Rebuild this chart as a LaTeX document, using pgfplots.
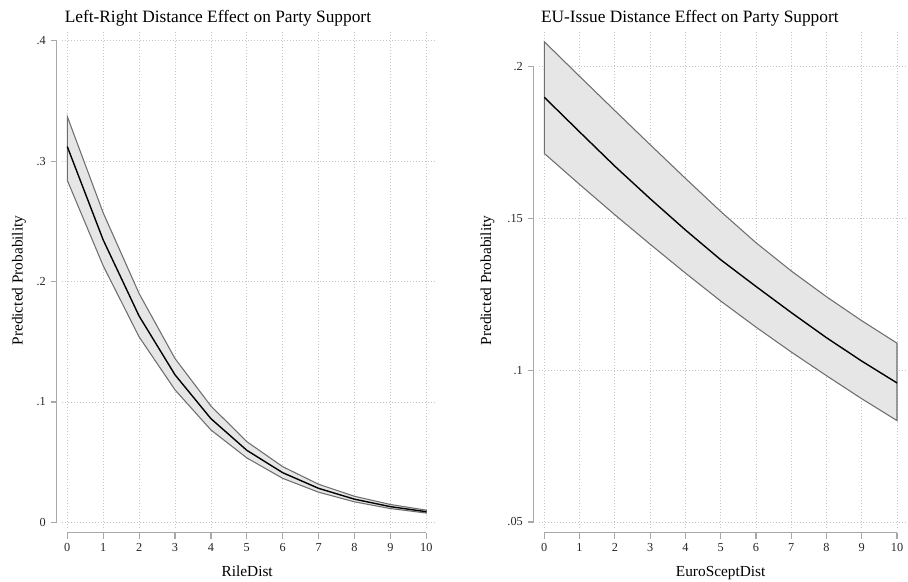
\documentclass[border=0pt]{standalone}
\usepackage{fontspec}
\setmainfont{Liberation Serif}
\usepackage{pgfplots}
\pgfplotsset{compat=1.18}

\definecolor{bandfill}{HTML}{E6E6E6}
\definecolor{bandline}{HTML}{6E6E6E}
\definecolor{axisgray}{HTML}{A8A8A8}
\definecolor{gridgray}{HTML}{C4C4C4}

\pgfplotsset{
  every axis title/.style={at={(0.5,1)}, anchor=base, font=\fontsize{13}{15}\selectfont},
  stata/.style={
    scale only axis,
    height=373.5pt,
    axis x line*=bottom,
    axis y line*=left,
    axis line style={axisgray, line width=1.1pt},
    tick style={axisgray, line width=0.9pt},
    tick align=outside,
    major tick length=4.5pt,
    grid=major,
    major grid style={gridgray, line width=0.6pt, dash pattern=on 0.6pt off 1.65pt},
    xtick={0,...,10},
    /pgf/number format/assume math mode=true,
    tick label style={font=\fontsize{9.2}{10}\selectfont, text=black!85},
    label style={font=\fontsize{11.5}{13}\selectfont},
    axis x line shift=3.5pt,
    axis y line shift=4.1pt,
  }
}

\begin{document}
\begin{tikzpicture}
\useasboundingbox (0,0) rectangle (681pt,436.5pt);

% Left panel
\begin{axis}[stata,
  at={(46.5pt,40.5pt)}, anchor=south west,
  width=279.75pt,
  xmin=-0.148, xmax=10.242,
  ymin=-0.00473, ymax=0.4089,
  ytick={0,0.1,0.2,0.3,0.4},
  yticklabels={0,.1,.2,.3,.4},
  x axis line style={shorten <=4pt, shorten >=6.5pt},
  y axis line style={shorten <=4.3pt, shorten >=8pt},
  title={Left-Right Distance Effect on Party Support},
  title style={at={(axis description cs:0.418,1.0147)}},
  xlabel={RileDist},
  xlabel style={at={(axis description cs:0.4965,-0.0964)}, anchor=base},
  ylabel={Predicted Probability},
  ylabel style={at={(axis description cs:-0.1153,0.497)}, anchor=center},
]
\addplot[fill=bandfill, draw=bandline, line width=0.8pt] coordinates {
  (0,0.337) (1,0.257) (2,0.190) (3,0.136) (4,0.0966) (5,0.0670)
  (6,0.0462) (7,0.0316) (8,0.0216) (9,0.0148) (10,0.0101)
  (10,0.0077) (9,0.0114) (8,0.0170) (7,0.0250) (6,0.0365) (5,0.0535)
  (4,0.0767) (3,0.110) (2,0.154) (1,0.213) (0,0.284)
} -- cycle;
\addplot[black, line width=1.05pt] coordinates {
  (0,0.312) (1,0.2345) (2,0.1713) (3,0.1225) (4,0.0861) (5,0.0598)
  (6,0.0412) (7,0.0282) (8,0.0192) (9,0.0130) (10,0.0088)
};
\end{axis}

% Right panel
\begin{axis}[stata,
  at={(404.25pt,40.5pt)}, anchor=south west,
  width=275.25pt,
  xmin=-0.150, xmax=10.255,
  ymin=0.04802, ymax=0.21206,
  ytick={0.05,0.1,0.15,0.2},
  yticklabels={.05,.1,.15,.2},
  x axis line style={shorten <=4pt, shorten >=6.75pt},
  y axis line style={shorten <=4.5pt, shorten >=27.5pt},
  title={EU-Issue Distance Effect on Party Support},
  title style={at={(axis description cs:0.411,1.0147)}},
  xlabel={EuroSceptDist},
  xlabel style={at={(axis description cs:0.495,-0.0964)}, anchor=base},
  ylabel={Predicted Probability},
  ylabel style={at={(axis description cs:-0.1403,0.497)}, anchor=center},
]
\addplot[fill=bandfill, draw=bandline, line width=0.8pt] coordinates {
  (0,0.2082) (1,0.1968) (2,0.1855) (3,0.1743) (4,0.1632) (5,0.1523)
  (6,0.1420) (7,0.1327) (8,0.1242) (9,0.1163) (10,0.1089)
  (10,0.0834) (9,0.0906) (8,0.0982) (7,0.1060) (6,0.1142) (5,0.1228)
  (4,0.1320) (3,0.1415) (2,0.1512) (1,0.1612) (0,0.1714)
} -- cycle;
\addplot[black, line width=1.05pt] coordinates {
  (0,0.1899) (1,0.1785) (2,0.1672) (3,0.1565) (4,0.1462) (5,0.1364)
  (6,0.1276) (7,0.1190) (8,0.1107) (9,0.1030) (10,0.0958)
};
\end{axis}
\end{tikzpicture}
\end{document}
